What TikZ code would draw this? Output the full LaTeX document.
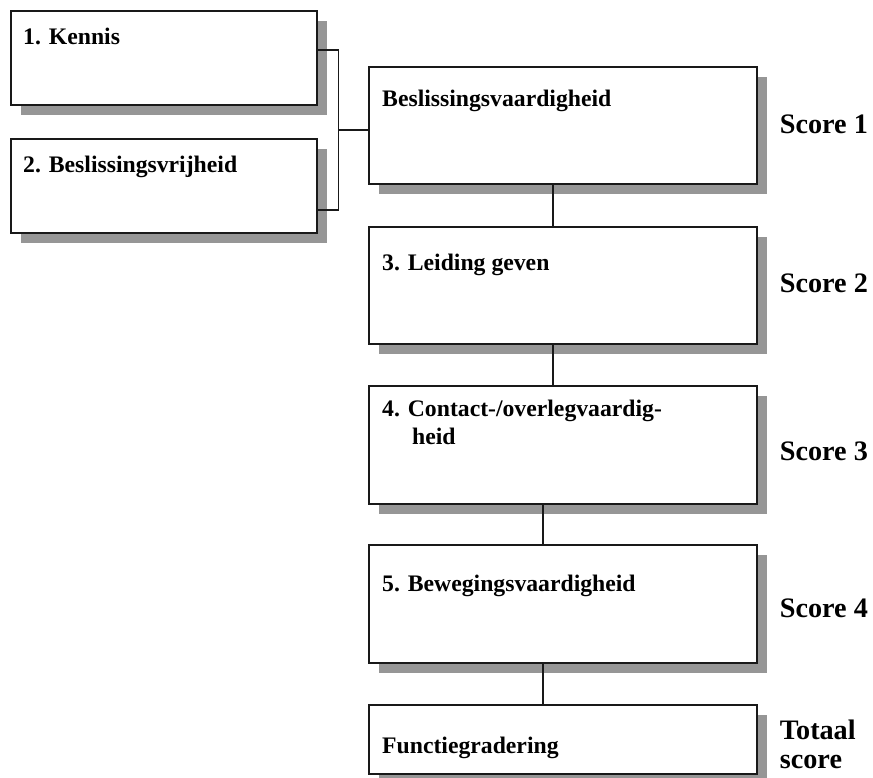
\documentclass[tikz,border=0pt]{standalone}
\usepackage{fontspec}
\setmainfont{Liberation Serif}
\usepackage{xcolor}
\usetikzlibrary{calc,shadows}

\definecolor{schaduw}{RGB}{150,150,150}
\definecolor{rand}{RGB}{25,25,25}

\begin{document}
\begin{tikzpicture}[x=1pt,y=-1pt,
    % Define a style for the boxes with their grey shadow
    blok/.style={rectangle, draw=rand, line width=1.7pt, fill=white, anchor=north west,
        minimum width=388pt, inner sep=0pt,
        drop shadow={shadow xshift=10pt, shadow yshift=-10pt, fill=schaduw, opacity=1}},
    % Define styles for the texts
    bloktekst/.style={anchor=base west, inner sep=0pt, font=\bfseries\fontsize{23.7}{28}\selectfont},
    scoretekst/.style={anchor=base west, inner sep=0pt, font=\bfseries\fontsize{28.2}{29}\selectfont},
    lijn/.style={draw=rand, line width=1.3pt}
]
    \useasboundingbox (0,0) rectangle (873,777);

    % Two input boxes on the left
    \node[blok, minimum width=306pt, minimum height=94pt] (kennis) at (10,10) {};
    \node[blok, minimum width=306pt, minimum height=94pt] (vrijheid) at (10,138) {};

    % The chain of boxes on the right
    \node[blok, minimum height=117pt] (beslis) at (368,66) {};
    \node[blok, minimum height=117pt] (leiding) at (368,226) {};
    \node[blok, minimum height=118pt] (contact) at (368,385) {};
    \node[blok, minimum height=118pt] (beweging) at (368,544) {};
    \node[blok, minimum height=69pt] (gradering) at (368,704) {};

    % Texts in the boxes
    \node[bloktekst] (kennistxt) at ($(kennis.north west)+(13,34)$) {1. Kennis};
    \node[bloktekst] (vrijheidtxt) at ($(vrijheid.north west)+(13,34)$) {2. Beslissingsvrijheid};
    \node[bloktekst] (beslistxt) at ($(beslis.north west)+(14,40)$) {Beslissingsvaardigheid};
    \node[bloktekst] (leidingtxt) at ($(leiding.north west)+(14,44)$) {3. Leiding geven};
    \node[bloktekst] (contacttxt) at ($(contact.north west)+(14,31)$) {4. Contact-/overlegvaardig-};
    \node[bloktekst] (contacttxt2) at ($(contacttxt.base west)+(30,28)$) {heid};
    \node[bloktekst] (bewegingtxt) at ($(beweging.north west)+(14,47)$) {5. Bewegingsvaardigheid};
    \node[bloktekst] (graderingtxt) at ($(gradering.north west)+(14,49)$) {Functiegradering};

    % Scores next to the boxes
    \node[scoretekst] (score1) at ($(beslis.east)+(22,8.5)$) {Score 1};
    \node[scoretekst] (score2) at ($(leiding.east)+(22,7.5)$) {Score 2};
    \node[scoretekst] (score3) at ($(contact.east)+(22,16)$) {Score 3};
    \node[scoretekst] (score4) at ($(beweging.east)+(22,14)$) {Score 4};
    \node[scoretekst] (totaal) at ($(gradering.east)+(22,0)$) {Totaal};
    \node[scoretekst] (totaal2) at ($(totaal.base west)+(0,29)$) {score};

    % Bracket joining box 1 and 2
    \coordinate (klem) at ($(kennis.east)+(21,0)$);
    \draw[lijn] ([yshift=8pt]kennis.east) -| (klem) |- ([yshift=-24pt]vrijheid.east);
    \draw[lijn] ([yshift=-4.5pt]beslis.west) -- ([yshift=-4.5pt]beslis.west -| klem);

    % Vertical connectors
    \draw[lijn] ([xshift=-10pt]beslis.south) -- ([xshift=-10pt]leiding.north);
    \draw[lijn] ([xshift=-10pt]leiding.south) -- ([xshift=-10pt]contact.north);
    \draw[lijn] ([xshift=-20pt]contact.south) -- ([xshift=-20pt]beweging.north);
    \draw[lijn] ([xshift=-20pt]beweging.south) -- ([xshift=-20pt]gradering.north);

\end{tikzpicture}
\end{document}
